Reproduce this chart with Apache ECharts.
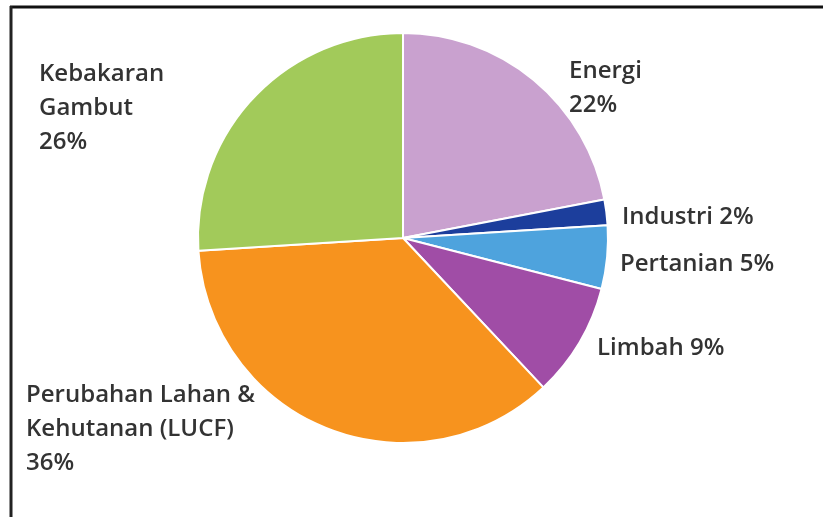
<!DOCTYPE html>
<html>
<head>
<meta charset="utf-8">
<script src="https://cdn.jsdelivr.net/npm/echarts@6/dist/echarts.min.js"></script>
<style>
html,body{margin:0;padding:0;background:#fff;}
#chart{width:823px;height:517px;}
</style>
</head>
<body>
<div id="chart"></div>
<script>
// Data
const categories = ['Energi', 'Industri', 'Pertanian', 'Limbah', 'Perubahan Lahan &\nKehutanan (LUCF)', 'Kebakaran\nGambut'];
const values = [22, 2, 5, 9, 36, 26];
const labelSeparators = ['\n', ' ', ' ', ' ', '\n', '\n'];
const colors = ['#C9A1CF', '#1C3E9C', '#4EA3DD', '#A04DA6', '#F7931E', '#A2CA5A'];

// Label anchor layout (x, y, vertical alignment) per slice
const labelAnchors = [
  {x: 569, y: 54, v: 'top'},
  {x: 622, y: 217, v: 'middle'},
  {x: 620, y: 264, v: 'middle'},
  {x: 597, y: 348, v: 'middle'},
  {x: 26, y: 378, v: 'top'},
  {x: 39, y: 57, v: 'top'}
];

const chart = echarts.init(document.getElementById('chart'));
const option = {
  backgroundColor: '#ffffff',
  animation: false,
  graphic: [
    {type: 'line', shape: {x1: 10, y1: 7, x2: 823, y2: 7}, style: {stroke: '#111', lineWidth: 3}},
    {type: 'line', shape: {x1: 11, y1: 6, x2: 11, y2: 517}, style: {stroke: '#222', lineWidth: 3}}
  ],
  series: [{
    type: 'pie',
    center: [403, 238],
    radius: 205,
    startAngle: 90,
    clockwise: true,
    avoidLabelOverlap: false,
    itemStyle: {borderColor: '#ffffff', borderWidth: 2},
    label: {
      show: true,
      color: '#333333',
      fontFamily: 'Open Sans',
      fontWeight: 600,
      fontSize: 24,
      lineHeight: 34,
      formatter: function (p) {
        return categories[p.dataIndex] + labelSeparators[p.dataIndex] + p.value + '%';
      }
    },
    labelLine: {show: false},
    labelLayout: function (params) {
      const a = labelAnchors[params.dataIndex];
      return {x: a.x, y: a.y, align: 'left', verticalAlign: a.v};
    },
    data: categories.map(function (c, i) {
      return {name: c, value: values[i], itemStyle: {color: colors[i]}};
    })
  }]
};
chart.setOption(option);
</script>
</body>
</html>
